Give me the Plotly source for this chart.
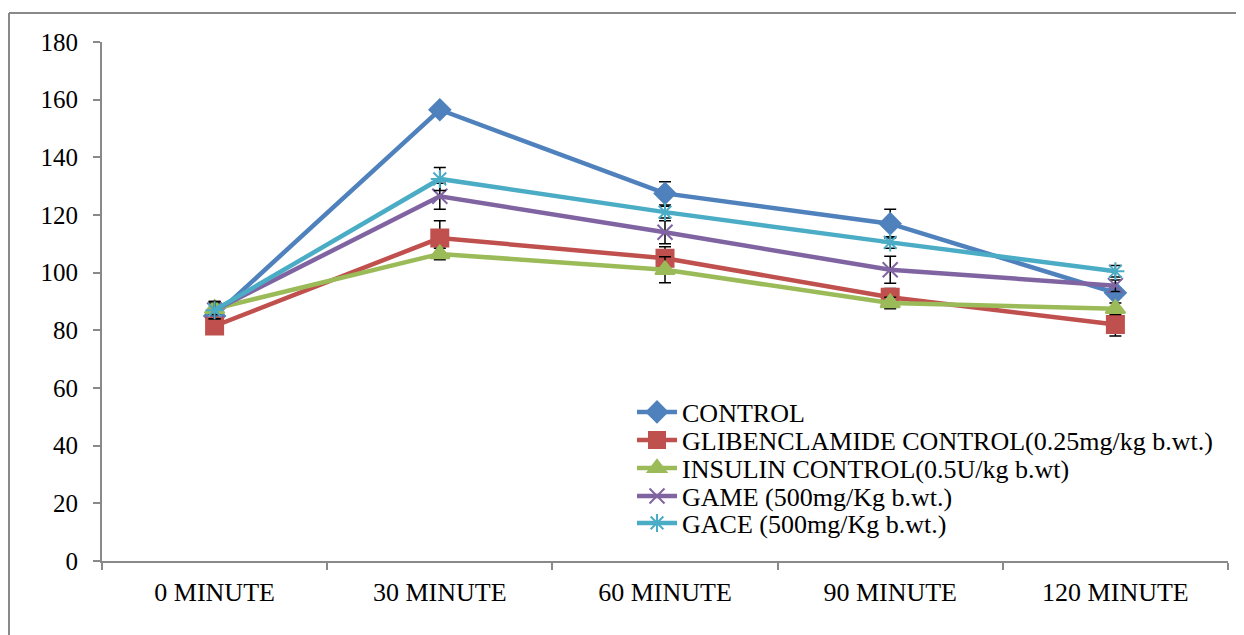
import plotly.graph_objects as go

categories = ["0 MINUTE", "30 MINUTE", "60 MINUTE", "90 MINUTE", "120 MINUTE"]

series_names = [
    "CONTROL",
    "GLIBENCLAMIDE CONTROL(0.25mg/kg b.wt.)",
    "INSULIN CONTROL(0.5U/kg b.wt)",
    "GAME (500mg/Kg b.wt.)",
    "GACE (500mg/Kg b.wt.)",
]

control = [85.0, 156.5, 127.5, 117.0, 93.0]
glibenclamide = [81.5, 112.0, 105.0, 91.5, 82.0]
insulin = [87.5, 106.5, 101.0, 89.5, 87.5]
game = [87.0, 126.5, 114.0, 101.0, 95.5]
gace = [87.0, 132.5, 121.0, 110.5, 100.5]

control_err = [2.0, 1.0, 4.0, 5.0, 1.5]
glibenclamide_err = [2.0, 6.0, 4.0, 3.0, 4.0]
insulin_err = [2.0, 2.0, 4.5, 2.0, 2.0]
game_err = [3.0, 4.5, 4.0, 4.7, 2.0]
gace_err = [3.0, 4.0, 2.0, 2.0, 2.0]

values = [control, glibenclamide, insulin, game, gace]
errors = [control_err, glibenclamide_err, insulin_err, game_err, gace_err]
colors = ["#4F81BD", "#C0504D", "#9BBB59", "#8064A2", "#4BACC6"]
symbols = ["diamond", "square", "triangle-up", "x-thin-open", "asterisk-open"]
sizes = [16, 17, 17, 15, 15]

# one legend per series so the rows can be spaced like the original
legend_ids = ["legend", "legend2", "legend3", "legend4", "legend5"]
legend_y = [0.2871, 0.2331, 0.1792, 0.1252, 0.0732]

FONT = "Liberation Serif"

fig = go.Figure()
for name, vals, err, col, sym, sz, lid in zip(series_names, values, errors, colors,
                                               symbols, sizes, legend_ids):
    fig.add_trace(go.Scatter(
        x=categories, y=vals, name=name, mode="lines+markers",
        line=dict(color=col, width=4.5),
        marker=dict(symbol=sym, size=sz, color=col, line=dict(color=col, width=2)),
        error_y=dict(type="data", array=err, visible=True, color="black",
                     thickness=1.5, width=6),
        legend=lid,
    ))

legend_common = dict(x=0.4707, xanchor="left", yanchor="middle",
                     font=dict(family=FONT, size=26, color="black"),
                     bgcolor="rgba(0,0,0,0)", itemwidth=40)

layout_legends = {}
for lid, ly in zip(legend_ids, legend_y):
    layout_legends[lid] = dict(legend_common, y=ly)

fig.update_layout(
    width=1244, height=635,
    margin=dict(l=94, r=24, t=34, b=82),
    paper_bgcolor="white", plot_bgcolor="white",
    font=dict(family=FONT, size=25, color="black"),
    showlegend=True,
    xaxis=dict(type="category", range=[-0.5, 4.5], tickson="boundaries",
               showline=True, linecolor="#898989", linewidth=2,
               ticks="outside", ticklen=7, tickcolor="#898989", tickwidth=2,
               showgrid=False, zeroline=False, ticklabelstandoff=7,
               tickfont=dict(family=FONT, size=26, color="black")),
    yaxis=dict(range=[0, 180], dtick=20, tick0=0,
               showline=True, linecolor="#898989", linewidth=2,
               ticks="outside", ticklen=7, tickcolor="#898989", tickwidth=2,
               showgrid=False, zeroline=False, ticklabelstandoff=10,
               tickfont=dict(family=FONT, size=25, color="black")),
    **layout_legends,
)

# outer chart-area border (top and left edges visible in reference)
fig.add_shape(type="line", xref="paper", yref="paper",
              x0=-0.0826, x1=1.2, y0=1.0559, y1=1.0559,
              line=dict(color="#898989", width=2))
fig.add_shape(type="line", xref="paper", yref="paper",
              x0=-0.0826, x1=-0.0826, y0=-0.2, y1=1.0559,
              line=dict(color="#898989", width=2))

fig.write_html("out.html")
